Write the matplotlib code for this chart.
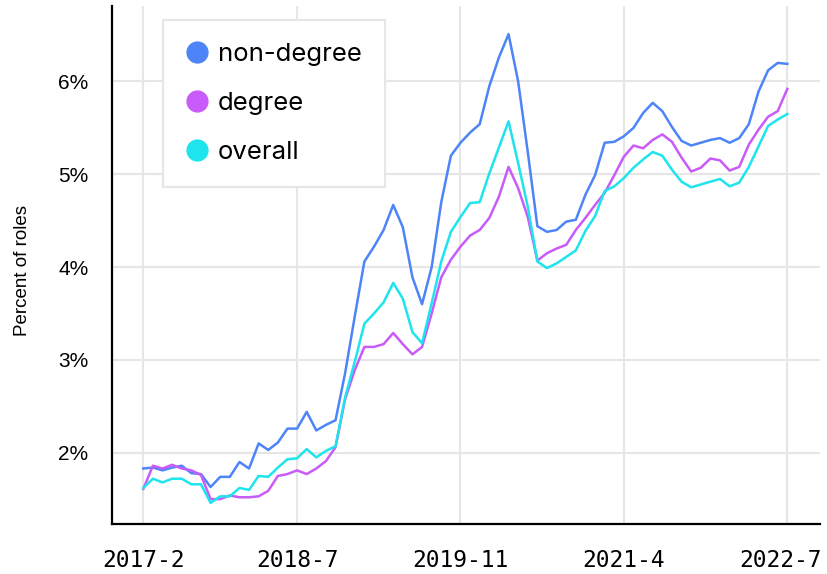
import numpy as np
import matplotlib
matplotlib.use('Agg')
import matplotlib.pyplot as plt
from matplotlib.lines import Line2D
from matplotlib.transforms import ScaledTranslation

# x tick labels and the point index where each one sits
tick_labels = ['2017-2', '2018-7', '2019-11', '2021-4', '2022-7']
tick_idx = [0, 16, 33, 50, 67]

# share of roles, in percent
non_degree = [1.83, 1.84, 1.81, 1.84, 1.86, 1.78, 1.77, 1.63, 1.74, 1.74,
              1.90, 1.83, 2.10, 2.03, 2.11, 2.26, 2.26, 2.44, 2.24, 2.30,
              2.35, 2.86, 3.47, 4.06, 4.22, 4.40, 4.67, 4.43, 3.89, 3.60,
              4.00, 4.70, 5.20, 5.34, 5.45, 5.54, 5.95, 6.26, 6.51, 6.00,
              5.24, 4.44, 4.38, 4.40, 4.49, 4.51, 4.78, 4.99, 5.34, 5.35,
              5.41, 5.50, 5.66, 5.77, 5.68, 5.51, 5.36, 5.31, 5.34, 5.37,
              5.39, 5.34, 5.39, 5.54, 5.89, 6.12, 6.20, 6.19]
degree = [1.61, 1.86, 1.83, 1.87, 1.83, 1.81, 1.76, 1.50, 1.50, 1.54,
          1.52, 1.52, 1.53, 1.59, 1.75, 1.77, 1.81, 1.77, 1.83, 1.91,
          2.06, 2.58, 2.89, 3.14, 3.14, 3.17, 3.29, 3.17, 3.06, 3.14,
          3.50, 3.89, 4.08, 4.22, 4.34, 4.40, 4.53, 4.76, 5.08, 4.85,
          4.54, 4.07, 4.15, 4.20, 4.24, 4.40, 4.53, 4.67, 4.80, 4.99,
          5.19, 5.31, 5.28, 5.37, 5.43, 5.35, 5.18, 5.03, 5.07, 5.17,
          5.15, 5.04, 5.08, 5.32, 5.48, 5.62, 5.68, 5.92]
overall = [1.62, 1.72, 1.68, 1.72, 1.72, 1.66, 1.66, 1.46, 1.53, 1.53,
           1.62, 1.60, 1.75, 1.74, 1.84, 1.93, 1.94, 2.04, 1.95, 2.02,
           2.07, 2.60, 2.98, 3.39, 3.50, 3.62, 3.83, 3.66, 3.30, 3.18,
           3.61, 4.06, 4.38, 4.54, 4.69, 4.70, 5.01, 5.29, 5.57, 5.12,
           4.65, 4.06, 3.99, 4.04, 4.11, 4.18, 4.39, 4.55, 4.82, 4.87,
           4.96, 5.07, 5.16, 5.24, 5.20, 5.05, 4.92, 4.86, 4.89, 4.92,
           4.95, 4.87, 4.91, 5.08, 5.30, 5.52, 5.59, 5.65]

series = [('non-degree', non_degree, '#4d84f8'),
          ('degree', degree, '#c85bf9'),
          ('overall', overall, '#1de4ed')]

fig = plt.figure(figsize=(8.27, 5.74), dpi=100)
ax = fig.add_axes([0.1354, 0.0871, 0.8561, 0.9024])

x = np.arange(len(non_degree))
for name, vals, color in series:
    ax.plot(x, vals, color=color, lw=1.8)

ax.set_xlim(-3.26, 70.4)
ax.set_ylim(1.232, 6.813)

ax.set_xticks(tick_idx)
ax.set_xticklabels(tick_labels, family='DejaVu Sans Mono', fontsize=16.5)
ax.set_yticks([2, 3, 4, 5, 6])
ax.set_yticklabels(['2%', '3%', '4%', '5%', '6%'], family='Liberation Sans', fontsize=15)
ax.tick_params(axis='both', length=0, colors='black')
ax.tick_params(axis='x', pad=18)
ax.tick_params(axis='y', pad=17)

# last date label sits a bit left so it stays inside the picture
last = ax.get_xticklabels()[-1]
last.set_transform(last.get_transform() + ScaledTranslation(-0.07, 0, fig.dpi_scale_trans))

ax.grid(color='#e6e6e6', lw=1.5)
ax.set_axisbelow(True)
for s in ['top', 'right']:
    ax.spines[s].set_visible(False)
for s in ['left', 'bottom']:
    ax.spines[s].set_linewidth(1.6)
    ax.spines[s].set_color('black')

ax.set_ylabel('Percent of roles', family='Liberation Sans', fontsize=13.5)
ax.yaxis.set_label_coords(-0.114, 0.49)

handles = [Line2D([], [], ls='none', marker='o', ms=15, color=c, label=n)
           for n, v, c in series]
leg = ax.legend(handles=handles, loc='upper left', bbox_to_anchor=(0.072, 0.973),
                borderaxespad=0, frameon=True, fancybox=False, framealpha=1,
                prop={'family': 'Inter', 'size': 18.5}, handletextpad=0.4,
                labelspacing=1.0, borderpad=0.9, handlelength=0.85)
leg.get_frame().set_edgecolor('#e6e6e6')
leg.get_frame().set_linewidth(1.5)

fig.savefig('out.png', dpi=100)
